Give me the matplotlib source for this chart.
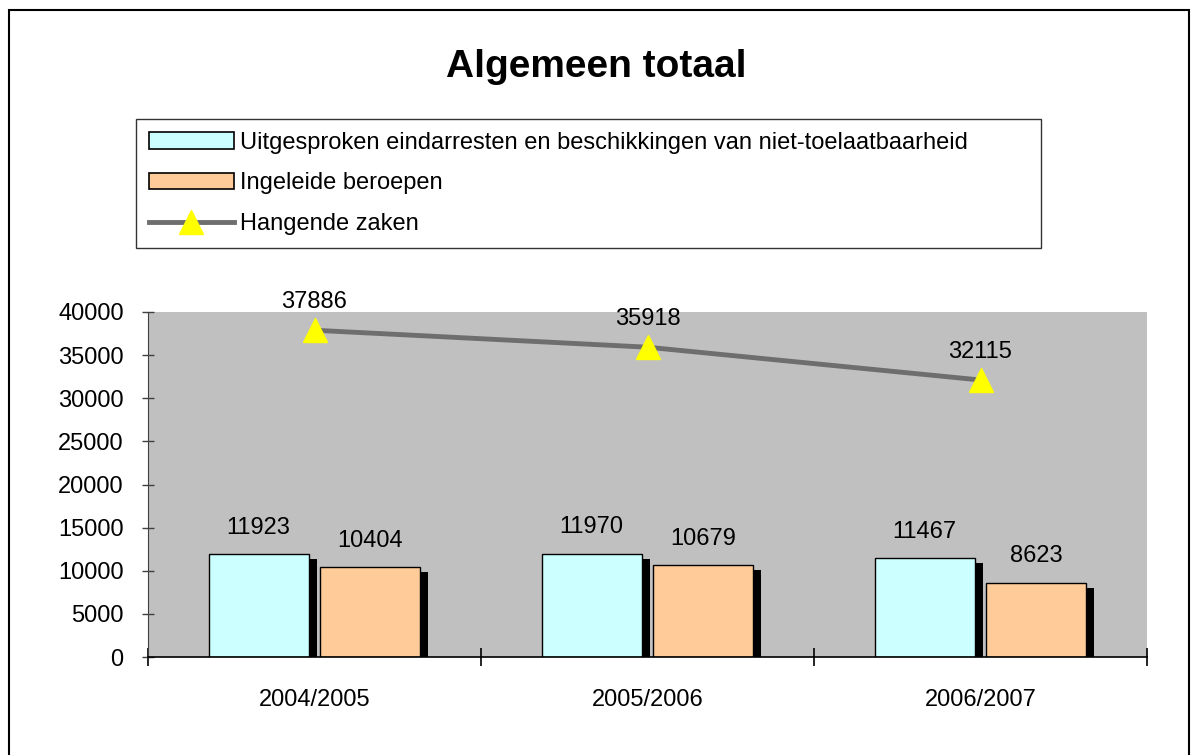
import matplotlib
matplotlib.use('Agg')
import matplotlib.pyplot as plt
import matplotlib.patheffects as pe
from matplotlib.patches import Patch, Rectangle
from matplotlib.lines import Line2D
import numpy as np

# ---- data ----
years = ['2004/2005', '2005/2006', '2006/2007']
uitgesproken = [11923, 11970, 11467]
ingeleid = [10404, 10679, 8623]
hangend = [37886, 35918, 32115]

label_uit = 'Uitgesproken eindarresten en beschikkingen van niet-toelaatbaarheid'
label_ing = 'Ingeleide beroepen'
label_hang = 'Hangende zaken'

CYAN = '#CCFFFF'
ORANGE = '#FFCC99'
GREY_BG = '#C0C0C0'
LINE_COL = '#6E6E6E'
YELLOW = '#FFFF00'
FS = 17

plt.rcParams['font.family'] = ['Liberation Sans', 'DejaVu Sans']

W, H = 1196, 755
fig = plt.figure(figsize=(W / 100, H / 100), dpi=100)

def px(x0, y0, x1, y1):
    return [x0 / W, 1 - y1 / H, (x1 - x0) / W, (y1 - y0) / H]

ax = fig.add_axes(px(148, 312, 1147, 657))
ax.set_facecolor(GREY_BG)

x = np.arange(len(years))
bw = 0.30
shadow = [pe.SimplePatchShadow(offset=(5.8, -3.6), shadow_rgbFace='black', alpha=1.0),
          pe.Normal()]

b1 = ax.bar(x - 0.168, uitgesproken, bw, color=CYAN, edgecolor='black', linewidth=1, zorder=2)
b2 = ax.bar(x + 0.168, ingeleid, bw, color=ORANGE, edgecolor='black', linewidth=1, zorder=2)
for b in list(b1) + list(b2):
    b.set_path_effects(shadow)

ax.plot(x, hangend, color=LINE_COL, linewidth=3.5, zorder=3,
        marker='^', markersize=17, markerfacecolor=YELLOW, markeredgecolor=YELLOW)

# data labels
for xi, v in zip(x - 0.168, uitgesproken):
    ax.annotate(str(v), (xi, v), xytext=(0, 19), textcoords='offset points',
                ha='center', va='center', fontsize=FS)
for xi, v in zip(x + 0.168, ingeleid):
    ax.annotate(str(v), (xi, v), xytext=(0, 19), textcoords='offset points',
                ha='center', va='center', fontsize=FS)
for xi, v in zip(x, hangend):
    ax.annotate(str(v), (xi, v), xytext=(0, 20), textcoords='offset points',
                ha='center', va='center', fontsize=FS)

ax.set_xlim(-0.5, 2.5)
ax.set_ylim(0, 40000)
ax.set_yticks(np.arange(0, 40001, 5000))
ax.tick_params(axis='y', direction='inout', length=9, width=1, labelsize=FS, pad=13,
               color='#404040')

ax.set_xticks([-0.5, 0.5, 1.5, 2.5])
ax.set_xticklabels([])
ax.set_xticks(x, minor=True)
ax.set_xticklabels(years, minor=True)
ax.tick_params(axis='x', which='major', direction='inout', length=13, width=1.2, color='black')
ax.tick_params(axis='x', which='minor', length=0, labelsize=FS, pad=23)

for s in ['top', 'right']:
    ax.spines[s].set_visible(False)
ax.spines['left'].set_color('#404040')
ax.spines['bottom'].set_color('black')
ax.spines['bottom'].set_linewidth(1.2)

# title
fig.text(596 / W, 1 - 77 / H, 'Algemeen totaal', ha='center', va='baseline',
         fontsize=28, fontweight='bold')

# legend
handles = [
    Patch(facecolor=CYAN, edgecolor='black', linewidth=1.2),
    Patch(facecolor=ORANGE, edgecolor='black', linewidth=1.2),
    Line2D([], [], color=LINE_COL, linewidth=3.5, marker='^', markersize=17,
           markerfacecolor=YELLOW, markeredgecolor=YELLOW),
]
leg_box = px(136, 119, 1041, 249)
leg = fig.legend(handles, [label_uit, label_ing, label_hang],
                 loc='upper left', bbox_to_anchor=(leg_box[0], leg_box[1] + leg_box[3], leg_box[2], 0),
                 mode='expand', borderaxespad=0, fontsize=FS, frameon=True, fancybox=False,
                 edgecolor='black', handlelength=3.6, handleheight=0.7, handletextpad=0.25,
                 labelspacing=0.78, borderpad=0.55, numpoints=1)
leg.get_frame().set_linewidth(1)

# outer frame
fig.add_artist(Rectangle((9 / W, -0.02), (1189 - 9) / W, 1 - 10 / H + 0.02,
                         transform=fig.transFigure, fill=False, edgecolor='black', linewidth=1.5))

fig.savefig('out.png', dpi=100)
